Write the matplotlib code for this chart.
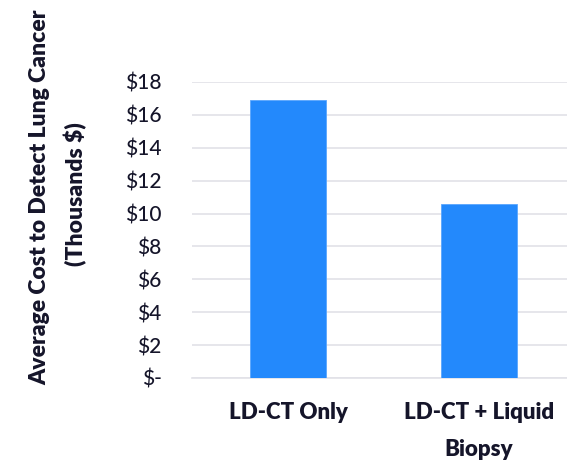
import matplotlib
matplotlib.use('Agg')
import matplotlib.pyplot as plt

plt.rcParams['font.family'] = ['Lato', 'DejaVu Sans']

categories = ['LD-CT Only', 'LD-CT + Liquid\nBiopsy']
costs = [16.9, 10.6]          # thousands of dollars
yticks = [0, 2, 4, 6, 8, 10, 12, 14, 16, 18]
ytick_labels = ['$-', '$2', '$4', '$6', '$8', '$10', '$12', '$14', '$16', '$18']

text_col = '#15152a'
bar_col = '#2389fc'

fig = plt.figure(figsize=(5.67, 4.62), dpi=100)
ax = fig.add_axes([192/567, 1 - 378/462, 1 - 192/567, (378 - 82)/462])

x = list(range(len(categories)))
ax.bar(x, costs, width=0.4, color=bar_col, edgecolor='#5aa6fd', linewidth=0.6, zorder=3)

ax.set_ylim(0, 18)
ax.set_xlim(-0.503, 1.46)
ax.set_yticks(yticks)
ax.set_yticklabels(ytick_labels, fontsize=15, color=text_col, fontweight='medium')
ax.yaxis.grid(True, color='#e2e2e8', linewidth=1.2, zorder=0)
ax.set_axisbelow(True)
ax.tick_params(axis='y', length=0, pad=22)
ax.tick_params(axis='x', length=0, pad=17)
ax.set_xticks(x)
ax.set_xticklabels(categories, fontsize=16, fontweight='heavy', color=text_col,
                   linespacing=1.95, va='top')
for s in ['top', 'right', 'left']:
    ax.spines[s].set_visible(False)
ax.spines['bottom'].set_color('#e2e2e8')
ax.spines['bottom'].set_linewidth(1.2)

fig.text(40/567, 1 - 197/462, 'Average Cost to Detect Lung Cancer', rotation=90,
         ha='center', va='center', fontsize=16.5, fontweight='heavy', color=text_col)
fig.text(76/567, 1 - 194/462, '(Thousands $)', rotation=90,
         ha='center', va='center', fontsize=16.5, fontweight='heavy', color=text_col)

fig.savefig('out.png', dpi=100)
